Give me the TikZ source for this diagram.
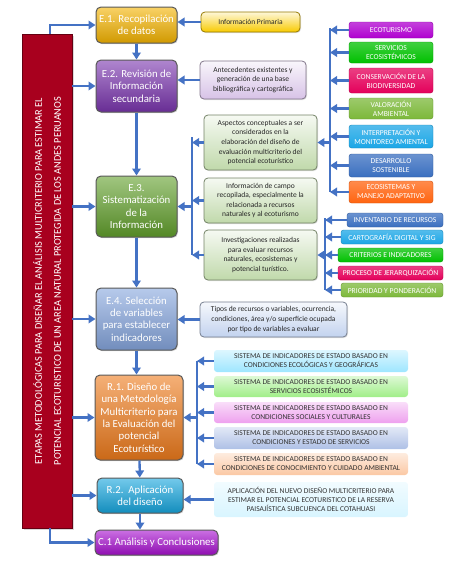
\documentclass[tikz,border=0pt]{standalone}
\usepackage{fontspec}
\setmainfont{Carlito}
\usetikzlibrary{arrows.meta,shadows}

\definecolor{linea}{HTML}{4472C4}
\definecolor{cBar}{HTML}{A8001E}
\definecolor{cE1}{HTML}{F5B400}
\definecolor{cE2}{HTML}{7A35AE}
\definecolor{cE3}{HTML}{62A02C}
\definecolor{cE4}{HTML}{86A6DE}
\definecolor{cR1}{HTML}{EE7B1C}
\definecolor{cR2}{HTML}{16A6DE}
\definecolor{cC1}{HTML}{A810D0}
\definecolor{cEco}{HTML}{B000D0}
\definecolor{cServ}{HTML}{00C000}
\definecolor{cCons}{HTML}{E4005A}
\definecolor{cValo}{HTML}{7CB83A}
\definecolor{cInter}{HTML}{1BA6E6}
\definecolor{cDesa}{HTML}{3A6FC0}
\definecolor{cEcos}{HTML}{FF6410}
\definecolor{cS1}{HTML}{9EE6FF}
\definecolor{cS2}{HTML}{A0EE88}
\definecolor{cS3}{HTML}{EEA0EE}
\definecolor{cS4}{HTML}{AEC0E6}
\definecolor{cS5}{HTML}{FBC8A4}

\tikzset{
  etapa/.style={draw=black!65, line width=1pt, rounded corners=5pt,
    top color=#1!60!white, bottom color=#1!85!black, align=center,
    text=white, inner sep=1pt, font=\fontsize{10.8}{12.4}\selectfont,
    drop shadow={opacity=0.3, shadow xshift=1pt, shadow yshift=-1pt}},
  infobox/.style={draw=#1!60!black, line width=0.8pt, rounded corners=4pt,
    top color=#1!15!white, bottom color=#1, align=center, text=black!85,
    inner sep=1pt, font=\fontsize{7.5}{9.6}\selectfont,
    drop shadow={opacity=0.25, shadow xshift=1pt, shadow yshift=-1pt}},
  tag/.style={draw=#1!80!black, line width=0.4pt, rounded corners=2.5pt,
    top color=#1!75!white, bottom color=#1, align=center, text=white,
    inner sep=0.5pt, font=\fontsize{7.6}{9}\selectfont, minimum height=14pt},
  sisbox/.style={draw=none, rounded corners=3pt, top color=#1!35!white,
    bottom color=#1, align=center, text=black!80, inner sep=0.5pt,
    font=\fontsize{7.5}{9}\selectfont, minimum width=194pt},
  flecha/.style={draw=linea, line width=2.3pt,
    -{Triangle[length=7pt,width=8.5pt]}},
  bus/.style={draw=linea, line width=2.3pt}
}

\begin{document}
\begin{tikzpicture}[x=1pt,y=-1pt]
\useasboundingbox (0,0) rectangle (453,563);

% barra vertical
\node[draw=cBar!60!black, line width=0.8pt, fill=cBar, minimum width=50pt,
  minimum height=494pt, drop shadow={opacity=0.3}] (bar) at (47,281) {};
\node[rotate=90, text=white, align=center, font=\fontsize{10.3}{19}\selectfont]
  (barText) at (bar.center)
  {ETAPAS METODOLÓGICAS PARA DISEÑAR EL ANÁLISIS MULTICRITERIO PARA ESTIMAR EL\\
   POTENCIAL ECOTURISTICO DE UN AREA NATURAL PROTEGIDA DE LOS ANDES PERUANOS};

% etapas
\node[etapa=cE1, minimum width=81pt, minimum height=36pt] (E1) at (136.5,25) {E.1. Recopilación\\de datos};
\node[etapa=cE2, minimum width=81pt, minimum height=52pt] (E2) at (136.5,86) {E.2. Revisión de\\Información\\secundaria};
\node[etapa=cE3, minimum width=81pt, minimum height=61pt] (E3) at (136.5,206.5) {E.3.\\Sistematización\\de la\\Información};
\node[etapa=cE4, minimum width=81pt, minimum height=62pt] (E4) at (136.5,319) {E.4. Selección\\de variables\\para establecer\\indicadores};
\node[etapa=cR1, minimum width=88pt, minimum height=85pt] (R1) at (139,417.5) {R.1. Diseño de\\una Metodología\\Multicriterio para\\la Evaluación del\\potencial\\Ecoturístico};
\node[etapa=cR2, minimum width=86pt, minimum height=35pt] (R2) at (140,495.5) {R.2.\ \ Aplicación\\del diseño};
\node[etapa=cC1, minimum width=123pt, minimum height=25pt] (C1) at (156.5,542.5) {C.1 Análisis y Conclusiones};

% cuadros de informacion
\node[infobox=cE1!70!yellow, minimum width=99pt, minimum height=20pt] (prim) at (250.5,22) {Información Primaria};
\node[infobox=cE2!30!white, minimum width=106pt, minimum height=38pt] (ante) at (253,80) {Antecedentes existentes y\\generación de una base\\bibliográfica y cartográfica};
\node[infobox=cE3!40!white, minimum width=113pt, minimum height=55pt] (asp) at (260.5,142.5) {Aspectos conceptuales a ser\\considerados en la\\elaboración del diseño de\\evaluación multicriterio del\\potencial ecoturístico};
\node[infobox=cE3!40!white, minimum width=113pt, minimum height=45pt] (campo) at (260.5,200.5) {Información de campo\\recopilada, especialmente la\\relacionada a recursos\\naturales y al ecoturismo};
\node[infobox=cE3!40!white, minimum width=113pt, minimum height=50pt] (invest) at (260.5,255) {Investigaciones realizadas\\para evaluar recursos\\naturales, ecosistemas y\\potencial turístico.};
\node[infobox=cE4!50!white, minimum width=147pt, minimum height=35pt] (tipos) at (273.5,319.5) {Tipos de recursos o variables, ocurrencia,\\condiciones, área y/o superficie ocupada\\por tipo de variables a evaluar};

% aspectos conceptuales
\node[tag=cEco, minimum width=84pt, minimum height=16pt] (eco) at (391,30) {ECOTURISMO};
\node[tag=cServ, minimum width=84pt, minimum height=21pt] (serv) at (391,52.5) {SERVICIOS\\ECOSISTÉMICOS};
\node[tag=cCons, minimum width=84pt, minimum height=25pt] (cons) at (391,80.5) {CONSERVACIÓN DE LA\\BIODIVERSIDAD};
\node[tag=cValo, minimum width=84pt, minimum height=21pt] (valo) at (391,108.5) {VALORACIÓN\\AMBIENTAL};
\node[tag=cInter, minimum width=84pt, minimum height=23pt] (inter) at (391,136.5) {INTERPRETACIÓN Y\\MONITOREO AMIENTAL};
\node[tag=cDesa, minimum width=84pt, minimum height=23pt] (desa) at (391,165.5) {DESARROLLO\\SOSTENIBLE};
\node[tag=cEcos, minimum width=84pt, minimum height=22pt] (ecos) at (391,192) {ECOSISTEMAS Y\\MANEJO ADAPTATIVO};

% investigaciones
\node[tag=cDesa, minimum width=96pt] (inven) at (395,220) {INVENTARIO DE RECURSOS};
\node[tag=cInter, minimum width=102pt] (carto) at (392,237) {CARTOGRAFÍA DIGITAL Y SIG};
\node[tag=cServ, minimum width=105pt] (crit) at (390.5,255) {CRITERIOS E INDICADORES};
\node[tag=cCons, minimum width=105pt] (proc) at (390.5,273) {PROCESO DE JERARQUIZACIÓN};
\node[tag=cValo, minimum width=102pt] (prio) at (392,290) {PRIORIDAD Y PONDERACIÓN};

% sistemas de indicadores
\node[sisbox=cS1, minimum height=22pt] (S1) at (311,361) {SISTEMA DE INDICADORES DE ESTADO BASADO EN\\CONDICIONES ECOLÓGICAS Y GEOGRÁFICAS};
\node[sisbox=cS2, minimum height=21pt] (S2) at (311,386.5) {SISTEMA DE INDICADORES DE ESTADO BASADO EN\\SERVICIOS ECOSISTÉMICOS};
\node[sisbox=cS3, minimum height=21pt] (S3) at (311,412.5) {SISTEMA DE INDICADORES DE ESTADO BASADO EN\\CONDICIONES SOCIALES Y CULTURALES};
\node[sisbox=cS4, minimum height=22pt] (S4) at (311,438) {SISTEMA DE INDICADORES DE ESTADO BASADO EN\\CONDICIONES Y ESTADO DE SERVICIOS};
\node[sisbox=cS5, minimum height=22pt] (S5) at (311,464) {SISTEMA DE INDICADORES DE ESTADO BASADO EN\\CONDICIONES DE CONOCIMIENTO Y CUIDADO AMBIENTAL};
\node[sisbox=cS1!40!white, minimum height=35pt] (aplic) at (311,499.5) {APLICACIÓN DEL NUEVO DISEÑO MULTICRITERIO PARA\\ESTIMAR EL POTENCIAL ECOTURISTICO DE LA RESERVA\\PAISAJÍSTICA SUBCUENCA DEL COTAHUASI};

% puntos de los buses
\coordinate (busAtop) at (330,28);
\coordinate (busAbot) at (330,192);
\coordinate (busBtop) at (325,218);
\coordinate (busBbot) at (325,290);
\coordinate (busCtop) at (192,137);
\coordinate (busCbot) at (192,255);
\coordinate (busDtop) at (197,361);
\coordinate (busDbot) at (197,464);

% flechas de la barra
\draw[flecha] ([xshift=3pt]bar.north) |- (E1.west);
\draw[flecha] (bar.east |- E2) -- (E2);
\draw[flecha] (bar.east |- E3) -- (E3);
\draw[flecha] (bar.east |- E4) -- (E4);
\draw[flecha] (bar.east |- R1) -- (R1);
\draw[flecha] (bar.east |- R2) -- (R2);
\draw[flecha] ([xshift=3pt]bar.south) |- (C1.west);

% flechas entre etapas
\draw[flecha] (E1) -- (E2);
\draw[flecha] (E2) -- (E3);
\draw[flecha] (E3) -- (E4);
\draw[flecha] (E4.south) -- (E4.south |- R1.north);
\draw[flecha] (R1) -- (R2);
\draw[flecha] (R2.south) -- (R2.south |- C1.north);

% flechas de los cuadros
\draw[flecha] (prim.west) -- (prim.west -| E1.east);
\draw[flecha] (ante.west) -- (ante.west -| E2.east);
\draw[flecha] (tipos.west) -- (tipos.west -| E4.east);
\draw[flecha] (aplic.west) -- (aplic.west -| R2.east);

% bus A
\draw[bus] (busAtop) -- (busAbot);
\foreach \n in {eco,serv,cons,valo,inter,desa,ecos}
  \draw[flecha] (\n.west) -- (\n.west -| busAtop);
\draw[flecha] (busAtop |- asp.east) -- (asp.east);

% bus B
\draw[bus] (busBtop) -- (busBbot);
\foreach \n in {inven,carto,crit,proc,prio}
  \draw[flecha] (\n.west) -- (\n.west -| busBtop);
\draw[flecha] (busBtop |- invest.east) -- (invest.east);

% bus C
\draw[bus] (busCtop) -- (busCbot);
\foreach \n in {asp,campo,invest}
  \draw[flecha] (\n.west) -- (\n.west -| busCtop);
\draw[flecha] (busCtop |- E3.east) -- (E3.east);

% bus D
\draw[bus] (busDtop) -- (busDbot);
\foreach \n in {S1,S2,S3,S4,S5}
  \draw[flecha] (\n.west) -- (\n.west -| busDtop);
\draw[flecha] (busDtop |- R1.east) -- (R1.east);

\end{tikzpicture}
\end{document}
